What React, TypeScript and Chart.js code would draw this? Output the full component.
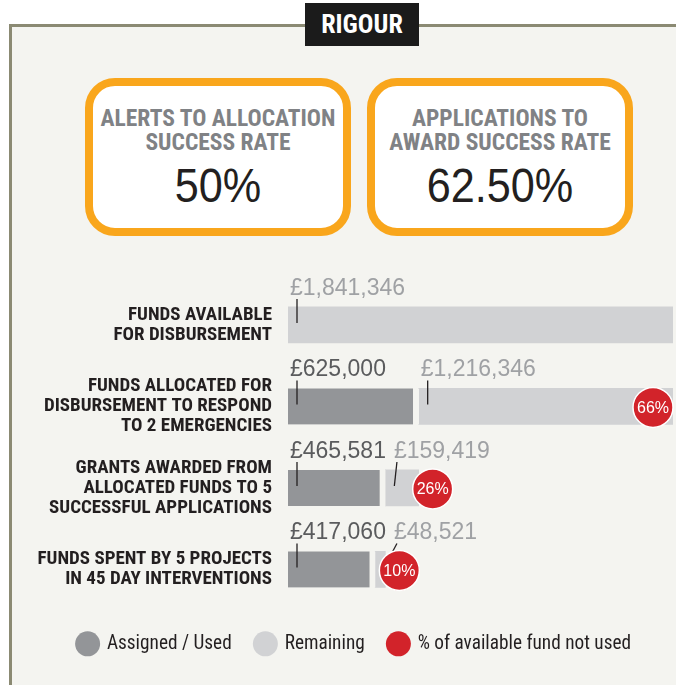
import React, { useEffect, useRef } from 'react';
import { Chart, registerables } from 'chart.js';

Chart.register(...registerables);

// ---------- data ----------
const sectionTitle = 'RIGOUR';
const rateTitles = [
  ['ALERTS TO ALLOCATION', 'SUCCESS RATE'],
  ['APPLICATIONS TO', 'AWARD SUCCESS RATE'],
];
const rateValues = ['50%', '62.50%'];

const categories = [
  ['FUNDS AVAILABLE', 'FOR DISBURSEMENT'],
  ['FUNDS ALLOCATED FOR', 'DISBURSEMENT TO RESPOND', 'TO 2 EMERGENCIES'],
  ['GRANTS AWARDED FROM', 'ALLOCATED FUNDS TO 5', 'SUCCESSFUL APPLICATIONS'],
  ['FUNDS SPENT BY 5 PROJECTS', 'IN 45 DAY INTERVENTIONS'],
];
const assignedValues: (number | null)[] = [null, 625000, 465581, 417060];
const remainingValues: (number | null)[] = [1841346, 1216346, 159419, 48521];
const unusedPercent: (number | null)[] = [null, 66, 26, 10];
const seriesLabels = ['Assigned / Used', 'Remaining', '% of available fund not used'];

// ---------- styles ----------
const NARROW = "'Roboto Condensed', 'DejaVu Sans Condensed', sans-serif";
const SANS = "'Liberation Sans', Arial, sans-serif";
const BG = '#f4f4f0';
const DARK = '#939598';
const LIGHT = '#d1d2d4';
const RED = '#d2232a';
const ORANGE = '#f9a61c';
const INK = '#231f20';
const DARK_TXT = '#5a5b5d';
const LIGHT_TXT = '#9fa1a4';

const fmt = (v: number) => '£' + v.toLocaleString('en-GB');

const annotPlugin = {
  id: 'annot',
  afterDatasetsDraw(chart: any) {
    const ctx = chart.ctx;
    const mA = chart.getDatasetMeta(0);
    const mR = chart.getDatasetMeta(1);
    const area = chart.chartArea;
    ctx.save();
    ctx.textBaseline = 'alphabetic';
    ctx.textAlign = 'left';
    for (let i = 0; i < categories.length; i++) {
      let prevEnd = -Infinity;
      const pieces: any[] = [];
      if (assignedValues[i] != null) pieces.push({ el: mA.data[i], v: assignedValues[i], color: DARK_TXT });
      if (remainingValues[i] != null) pieces.push({ el: mR.data[i], v: remainingValues[i], color: LIGHT_TXT });
      for (const p of pieces) {
        const el = p.el;
        const start = Math.min(el.base, el.x);
        const top = el.y - el.height / 2;
        const text = fmt(p.v);
        ctx.font = `23px ${SANS}`;
        const tx = Math.max(start + 2, prevEnd + 8);
        ctx.fillStyle = p.color;
        ctx.fillText(text, tx, top - 12);
        prevEnd = tx + ctx.measureText(text).width;
        const topX = tx - start > 4 ? tx + 3 : start + 9;
        ctx.beginPath();
        ctx.strokeStyle = INK;
        ctx.lineWidth = 1.3;
        ctx.moveTo(topX, top - 8);
        ctx.lineTo(start + 9, top + 16);
        ctx.stroke();
      }
    }
    for (let i = 0; i < categories.length; i++) {
      const pct = unusedPercent[i];
      if (pct == null) continue;
      const el = mR.data[i];
      const end = Math.max(el.base, el.x);
      const cx = Math.min(end + 14, area.right - 20);
      const cy = el.y + 1;
      ctx.beginPath();
      ctx.arc(cx, cy, 20, 0, Math.PI * 2);
      ctx.fillStyle = RED;
      ctx.fill();
      ctx.lineWidth = 1.5;
      ctx.strokeStyle = '#ffffff';
      ctx.stroke();
      ctx.fillStyle = '#ffffff';
      ctx.font = `16px ${SANS}`;
      ctx.textAlign = 'center';
      ctx.textBaseline = 'middle';
      ctx.fillText(pct + '%', cx, cy + 1);
      ctx.textAlign = 'left';
      ctx.textBaseline = 'alphabetic';
    }
    ctx.restore();
  },
};

function RateBox({ left, title, value }: { left: number; title: string[]; value: string }) {
  return (
    <div
      style={{
        position: 'absolute',
        left,
        top: 78,
        width: 266,
        height: 158,
        boxSizing: 'border-box',
        border: `8px solid ${ORANGE}`,
        borderRadius: 30,
        background: '#ffffff',
      }}
    >
      <div
        style={{
          position: 'absolute',
          left: -10,
          right: -10,
          top: 21,
          textAlign: 'center',
          font: `bold 23.5px/23.5px ${NARROW}`,
          color: '#808285',
          whiteSpace: 'nowrap',
        }}
      >
        {title[0]}
        <br />
        {title[1]}
      </div>
      <div
        style={{
          position: 'absolute',
          left: 0,
          right: 0,
          top: 76,
          textAlign: 'center',
          font: `48px/48px ${SANS}`,
          color: INK,
          transform: 'scaleX(0.9)',
          whiteSpace: 'nowrap',
        }}
      >
        {value}
      </div>
    </div>
  );
}

export default function App() {
  const ref = useRef<HTMLCanvasElement | null>(null);

  useEffect(() => {
    if (!ref.current) return;
    const totals = categories.map((_, i) => (assignedValues[i] || 0) + (remainingValues[i] || 0));
    const baseGen = (Chart as any).defaults.plugins.legend.labels.generateLabels;
    const chart = new Chart(ref.current, {
      type: 'bar',
      data: {
        labels: categories,
        datasets: [
          {
            label: seriesLabels[0],
            data: assignedValues,
            backgroundColor: DARK,
            borderColor: BG,
            borderWidth: { top: 0, right: 6, bottom: 0, left: 0 },
            borderSkipped: false,
            barThickness: 36,
          },
          {
            label: seriesLabels[1],
            data: remainingValues,
            backgroundColor: LIGHT,
            borderWidth: 0,
            barThickness: 36,
          },
        ],
      } as any,
      options: {
        indexAxis: 'y',
        animation: false,
        responsive: false,
        maintainAspectRatio: false,
        events: [],
        layout: { padding: { left: 36, right: 3, top: 36.2, bottom: 21.5 } },
        scales: {
          x: { display: false, stacked: true, min: 0, max: Math.max(...totals) },
          y: {
            stacked: true,
            grid: { display: false, drawTicks: false },
            border: { display: false },
            ticks: {
              autoSkip: false,
              padding: 16,
              color: INK,
              font: { family: NARROW, size: 19, weight: 'bold', lineHeight: 20 / 19 },
            },
            afterFit: (s: any) => {
              s.width = 252;
            },
          },
        },
        plugins: {
          tooltip: { enabled: false },
          legend: {
            position: 'bottom',
            labels: {
              usePointStyle: true,
              pointStyle: 'circle',
              boxWidth: 20,
              boxHeight: 17.7,
              padding: 24,
              color: INK,
              font: { family: NARROW, size: 19.3 },
              generateLabels: (c: any) => {
                const items = baseGen(c).map((it: any) => ({
                  ...it,
                  lineWidth: 0,
                  strokeStyle: it.fillStyle,
                  pointStyle: 'circle',
                }));
                items.push({
                  text: seriesLabels[2],
                  fillStyle: RED,
                  strokeStyle: RED,
                  lineWidth: 0,
                  pointStyle: 'circle',
                  hidden: false,
                  datasetIndex: -1,
                  fontColor: INK,
                });
                return items;
              },
            },
          },
        },
      } as any,
      plugins: [annotPlugin],
    });
    return () => chart.destroy();
  }, []);

  return (
    <div
      style={{
        position: 'absolute',
        left: 0,
        top: 0,
        width: 676,
        height: 685,
        overflow: 'hidden',
        background: '#ffffff',
      }}
    >
      <div
        style={{
          position: 'absolute',
          left: 9,
          top: 24,
          width: 720,
          height: 720,
          borderLeft: '3px solid #8b8a73',
          borderTop: '3px solid #8b8a73',
          background: BG,
        }}
      />
      <div
        style={{
          position: 'absolute',
          left: 305,
          top: 3,
          width: 114,
          height: 43,
          background: '#1b1b1b',
          color: '#ffffff',
          textAlign: 'center',
          font: `bold 26px/43px ${NARROW}`,
        }}
      >
        {sectionTitle}
      </div>
      <RateBox left={85} title={rateTitles[0]} value={rateValues[0]} />
      <RateBox left={367} title={rateTitles[1]} value={rateValues[1]} />
      <canvas
        ref={ref}
        width={676}
        height={437}
        style={{ position: 'absolute', left: 0, top: 248, width: 676, height: 437 }}
      />
    </div>
  );
}
